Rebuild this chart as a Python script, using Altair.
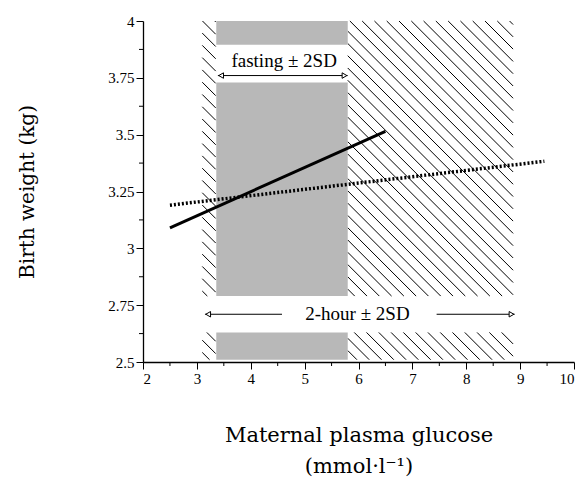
import altair as alt
import pandas as pd
import numpy as np

# ---------------- data ----------------
x_ticks = [2, 3, 4, 5, 6, 7, 8, 9, 10]
x_minor = [2.5, 3.5, 4.5, 5.5, 6.5, 7.5, 8.5, 9.5]
y_ticks = [2.5, 2.75, 3.0, 3.25, 3.5, 3.75, 4.0]
y_minor = [2.625, 2.875, 3.125, 3.375, 3.625, 3.875]

# regression lines (glucose, birth weight)
solid_x = [2.5, 6.5]
solid_y = [3.09, 3.515]
dotted_x = [2.5, 9.45]
dotted_y = [3.19, 3.383]

# reference ranges
hatch_x0 = [3.1, 3.1, 5.8, 5.8]
hatch_x1 = [3.35, 3.35, 8.87, 8.87]
hatch_y0 = [2.79, 2.51, 2.79, 2.51]
hatch_y1 = [4.0, 2.63, 4.0, 2.63]

gray_x0 = [3.36, 3.36, 3.36]
gray_x1 = [5.8, 5.8, 5.8]
gray_y0 = [3.895, 2.79, 2.51]
gray_y1 = [4.0, 3.73, 2.63]

fast_arrow = [3.39, 5.80, 3.76]     # x from, x to, y
two_left = [3.15, 4.58, 2.71]
two_right = [7.45, 8.90, 2.71]
labels = ["fasting ± 2SD", "2-hour ± 2SD"]
label_x = [4.62, 5.98]
label_y = [3.825, 2.713]

# ---------------- layout ----------------
W, H = 431, 341
XD, YD = [2, 10], [2.5, 4]
m = (W / 8) / (H / 1.5)   # data-y per data-x giving 45 degree lines
spacing = 0.228

segs = []
for x0, x1, y0, y1 in zip(hatch_x0, hatch_x1, hatch_y0, hatch_y1):
    for k in range(-60, 40):
        xt = 5.84 + k * spacing            # where line crosses y=4.0
        xa = xt + (4.0 - y1) / m
        xb = xt + (4.0 - y0) / m
        s, e = max(x0, xa), min(x1, xb)
        if e - s > 1e-6:
            segs.append(dict(x=s, x2=e, y=4.0 - m * (s - xt), y2=4.0 - m * (e - xt)))
hatch_df = pd.DataFrame(segs)

xs = alt.Scale(domain=XD, nice=False, zero=False)
ys = alt.Scale(domain=YD, nice=False, zero=False)

hatch = alt.Chart(hatch_df).mark_rule(color="black", strokeWidth=1).encode(
    x=alt.X("x:Q", scale=xs, axis=alt.Axis(values=x_ticks, labelExpr="datum.value + ''",
            title=["Maternal plasma glucose", "(mmol·l⁻¹)"], titlePadding=38,
            titleLineHeight=31, titleFontSize=21)),
    x2="x2:Q",
    y=alt.Y("y:Q", scale=ys, axis=alt.Axis(values=y_ticks, labelExpr="datum.value + ''",
            title="Birth weight (kg)", titlePadding=70, titleFontSize=20)),
    y2="y2:Q",
)

gray_df = pd.DataFrame(dict(x=gray_x0, x2=gray_x1, y=gray_y0, y2=gray_y1))
gray = alt.Chart(gray_df).mark_rect(color="#b8b8b8").encode(
    x="x:Q", x2="x2:Q", y="y:Q", y2="y2:Q")

arr_df = pd.DataFrame(dict(x=[fast_arrow[0], two_left[0], two_right[0]],
                           x2=[fast_arrow[1], two_left[1], two_right[1]],
                           y=[fast_arrow[2], two_left[2], two_right[2]]))
arrows = alt.Chart(arr_df).mark_rule(color="black", strokeWidth=1).encode(
    x="x:Q", x2="x2:Q", y="y:Q")

headL = pd.DataFrame(dict(x=[fast_arrow[0] + 0.06, two_left[0] + 0.06],
                          y=[fast_arrow[2], two_left[2]]))
headR = pd.DataFrame(dict(x=[fast_arrow[1] - 0.06, two_right[1] - 0.06],
                          y=[fast_arrow[2], two_right[2]]))
hl = alt.Chart(headL).mark_point(shape="triangle-left", size=30, filled=True,
                                 fill="white", stroke="black", strokeWidth=1, opacity=1).encode(
    x="x:Q", y="y:Q")
hr = alt.Chart(headR).mark_point(shape="triangle-right", size=30, filled=True,
                                 fill="white", stroke="black", strokeWidth=1, opacity=1).encode(
    x="x:Q", y="y:Q")

lab_df = pd.DataFrame(dict(t=labels, x=label_x, y=label_y))
texts = alt.Chart(lab_df).mark_text(font="Liberation Serif", fontSize=19,
                                    color="black", baseline="middle").encode(
    x="x:Q", y="y:Q", text="t:N")

solid = alt.Chart(pd.DataFrame(dict(x=solid_x, y=solid_y))).mark_line(
    color="black", strokeWidth=3).encode(x="x:Q", y="y:Q")
dotted = alt.Chart(pd.DataFrame(dict(x=dotted_x, y=dotted_y))).mark_line(
    color="black", strokeWidth=3.5, strokeDash=[2, 2]).encode(x="x:Q", y="y:Q")

xm = alt.Chart(pd.DataFrame(dict(x=x_minor))).mark_rule(color="black", strokeWidth=1).encode(
    x="x:Q", y=alt.value(H), y2=alt.value(H + 4))
ym = alt.Chart(pd.DataFrame(dict(y=y_minor))).mark_rule(color="black", strokeWidth=1).encode(
    y="y:Q", x=alt.value(0), x2=alt.value(-4))

chart = alt.layer(hatch, gray, arrows, hl, hr, texts, dotted, solid, xm, ym).properties(
    width=W, height=H,
    autosize=alt.AutoSizeParams(type="none"),
    padding={"left": 135, "top": 13, "right": 4, "bottom": 122},
).configure_view(stroke=None).configure_axis(
    grid=False, domainColor="black", domainWidth=1.3, tickColor="black",
    tickSize=7, tickWidth=1, labelFont="Liberation Serif", labelFontSize=15,
    labelColor="black", titleFont="DejaVu Serif", titleFontWeight="normal",
    titleColor="black", labelPadding=2,
)

chart.save("out.html", embed_options={"renderer": "svg", "actions": False})
